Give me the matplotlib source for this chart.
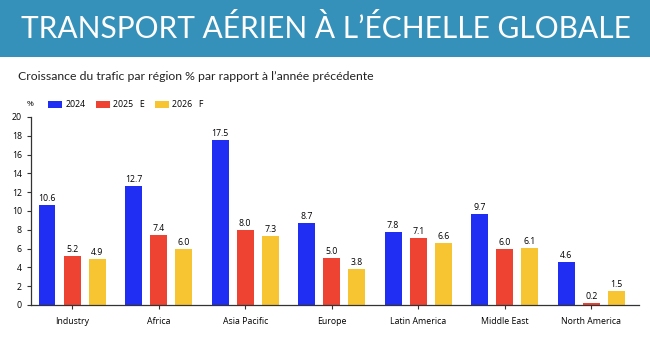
import numpy as np
import matplotlib.pyplot as plt
from matplotlib.patches import Rectangle

# données
regions = ['Industry', 'Africa', 'Asia Pacific', 'Europe', 'Latin America', 'Middle East', 'North America']
v2024 = [10.6, 12.7, 17.5, 8.7, 7.8, 9.7, 4.6]
v2025 = [5.2, 7.4, 8.0, 5.0, 7.1, 6.0, 0.2]
v2026 = [4.9, 6.0, 7.3, 3.8, 6.6, 6.1, 1.5]
series_labels = ['2024', '2025   E', '2026   F']
colors = ['#1f2ef2', '#ee4232', '#f8c532']

plt.rcParams['font.family'] = ['Open Sans', 'DejaVu Sans']

fig = plt.figure(figsize=(6.5, 3.37), dpi=100)
fig.patch.set_facecolor('white')

# bandeau du titre
fig.patches.append(Rectangle((0, 1 - 57 / 337), 1, 57 / 337, transform=fig.transFigure,
                             facecolor='#3591ba', edgecolor='none', zorder=0))
fig.text(326 / 650, 1 - 28 / 337, 'TRANSPORT AÉRIEN À L\u2019ÉCHELLE GLOBALE', color='white',
         fontsize=21.5, family='Lato', ha='center', va='center')
fig.text(18 / 650, 1 - 76 / 337, 'Croissance du trafic par région % par rapport à l\u2019année précédente',
         fontsize=8.8, family='Lato', ha='left', va='center', color='#222222')
fig.text(30 / 650, 1 - 105 / 337, '%', fontsize=6, ha='center', va='center')

ax = fig.add_axes([31 / 650, 32 / 337, 608 / 650, 188 / 337])
x = np.arange(len(regions))
w = 0.196
off = 0.29
for i, (vals, c, lab) in enumerate(zip([v2024, v2025, v2026], colors, series_labels)):
    bars = ax.bar(x + (i - 1) * off, vals, width=w, color=c, label=lab)
    ax.bar_label(bars, labels=[f'{v:.1f}' for v in vals], padding=1.5, fontsize=6.3)

ax.set_xlim(-0.475, 6.55)
ax.set_ylim(0, 20)
ax.set_yticks(range(0, 21, 2))
ax.set_xticks(x)
ax.set_xticklabels(regions)
ax.tick_params(axis='both', labelsize=6.3, length=3, width=0.8, color='#333333')
ax.tick_params(axis='x', pad=6)
for s in ['top', 'right']:
    ax.spines[s].set_visible(False)
for s in ['left', 'bottom']:
    ax.spines[s].set_color('#333333')
    ax.spines[s].set_linewidth(0.9)

ax.legend(loc='center left', bbox_to_anchor=(0.023, 1.065), ncol=3, frameon=False,
          fontsize=6.3, handlelength=1.6, handleheight=0.9, columnspacing=1.1,
          handletextpad=0.4, borderaxespad=0.0)

fig.savefig('out.png', dpi=100)
